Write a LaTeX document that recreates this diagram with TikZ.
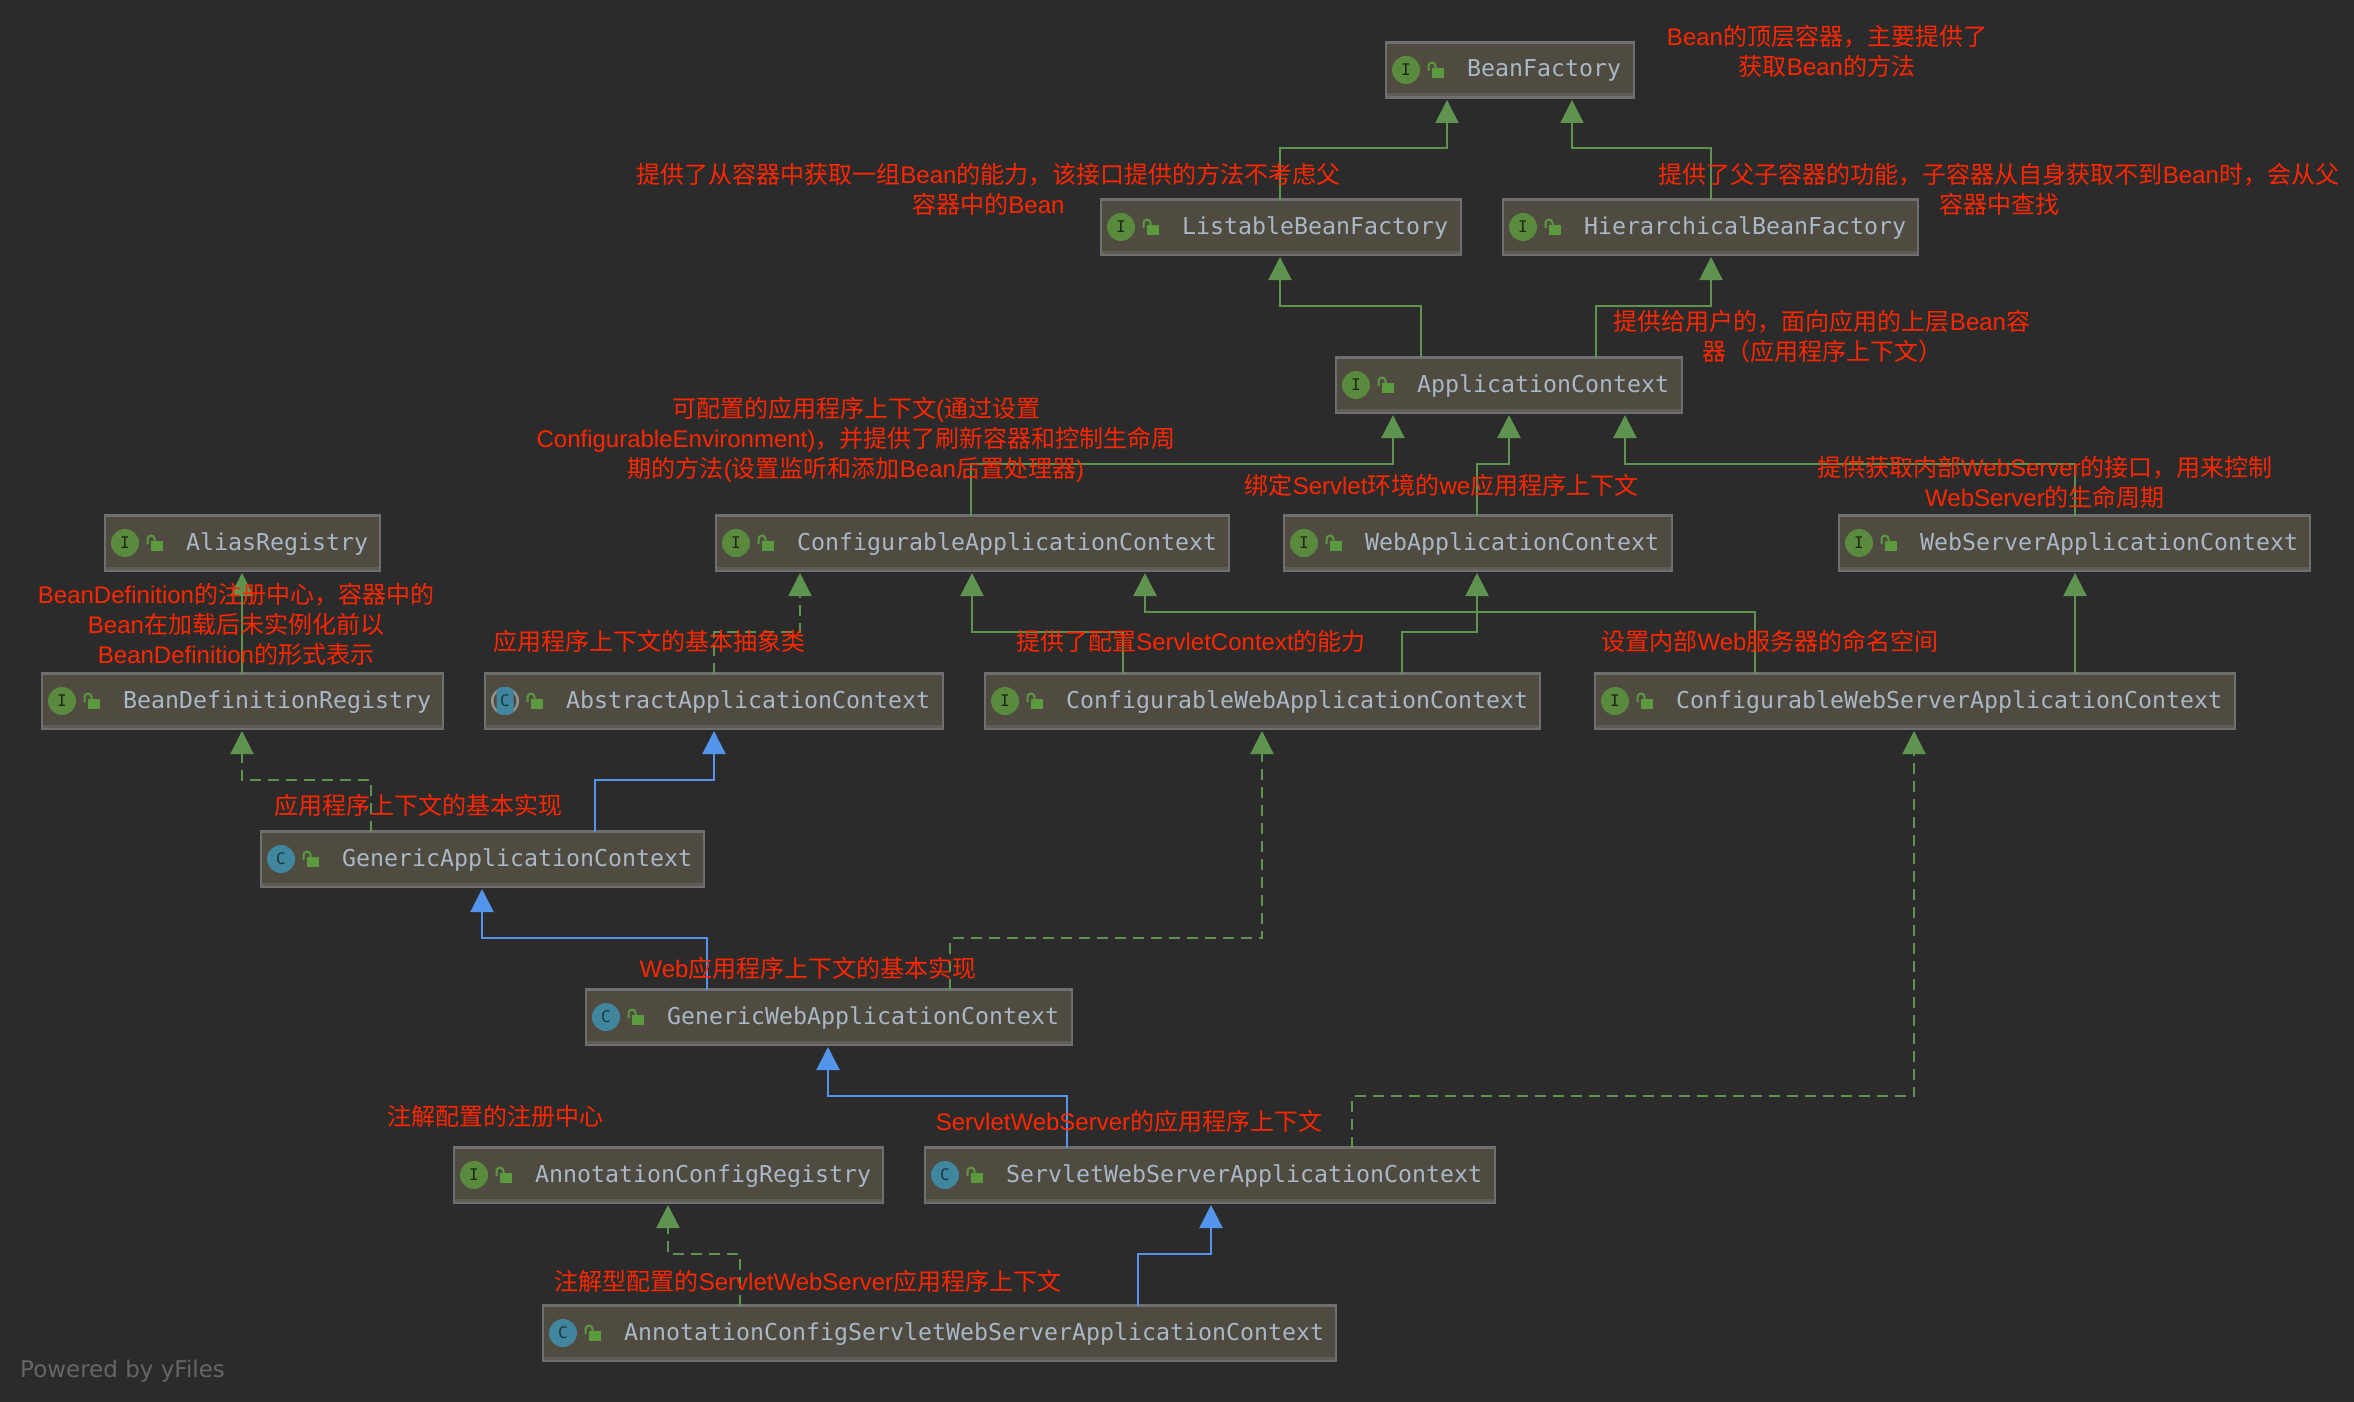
\documentclass[tikz,border=0pt]{standalone}
\usepackage{fontspec}
\setmainfont{Liberation Sans}
\newfontfamily\cjk{Noto Sans CJK SC}
\newfontfamily\codefont{DejaVu Sans Mono}
\newfontfamily\yfont{DejaVu Sans}
\newcommand{\Z}[1]{{\cjk #1}}
\usetikzlibrary{arrows.meta}
\definecolor{bgc}{HTML}{2B2B2B}
\definecolor{boxfill}{HTML}{4F4B40}
\definecolor{boxline}{HTML}{6F6F6F}
\definecolor{boxband}{HTML}{5E5C55}
\definecolor{codec}{HTML}{A9B7C6}
\definecolor{redc}{HTML}{FF2600}
\definecolor{greenc}{HTML}{5F9450}
\definecolor{bluec}{HTML}{5394EC}
\definecolor{igreen}{HTML}{5A8A3D}
\definecolor{iblue}{HTML}{40869F}
\definecolor{lockc}{HTML}{5C9A40}
\definecolor{yc}{HTML}{666666}
\tikzset{
  classbox/.style={draw=boxline,fill=boxfill,line width=2.4pt,outer sep=0pt,inner sep=0pt},
  conn/.style={line width=2.2pt,sharp corners,line join=miter},
  impl/.style={conn,greenc,-{Triangle[length=23pt,width=23pt,fill=greenc]}},
  impld/.style={impl,dash pattern=on 11pt off 7pt},
  ext/.style={conn,bluec,-{Triangle[length=23pt,width=23pt,fill=bluec]}},
  note/.style={text=redc,align=center,inner sep=0pt,font=\fontsize{24}{30}\selectfont},
  classname/.style={text=codec,anchor=base west,inner sep=0pt,font=\codefont\fontsize{23.25}{28}\selectfont},
  iconletter/.style={inner sep=0pt,font=\codefont\fontsize{16}{18}\selectfont},
}
% #1 name, #2 kind I/C/A, #3 x0, #4 y0, #5 x1, #6 text
\newcommand{\classnode}[6]{%
  \pgfmathsetmacro{\cxx}{(#3+#5+1)/2}%
  \pgfmathsetmacro{\cyy}{#4+29}%
  \pgfmathsetmacro{\www}{#5-#3+1-2.4}%
  \node[classbox,minimum width=\www pt,minimum height=55pt] (#1) at (\cxx,\cyy) {};
  \fill[boxband] (#3+2,#4+52.5) rectangle (#5-1,#4+55.5);
  \def\kind{#2}\def\kI{I}\def\kC{C}%
  \ifx\kind\kI
    \fill[igreen] (#3+21,\cyy) circle (14pt);
    \node[iconletter,text=black!70!igreen] at (#3+21,\cyy) {I};
  \else\ifx\kind\kC
    \fill[iblue] (#3+21,\cyy) circle (14pt);
    \node[iconletter,text=black!60!iblue] at (#3+21,\cyy) {C};
  \else
    \fill[gray!85] (#3+21,\cyy) circle (14pt);
    \fill[boxfill] (#3+21,\cyy) circle (11.5pt);
    \begin{scope}
      \clip (#3+12.5,\cyy-15) rectangle (#3+29.5,\cyy+15);
      \fill[iblue] (#3+21,\cyy) circle (14pt);
    \end{scope}
    \node[iconletter,text=black!60!iblue] at (#3+21,\cyy) {C};
  \fi\fi
  \fill[lockc] (#3+47,\cyy-2) rectangle (#3+59,\cyy+8);
  \draw[lockc,line width=2pt] (#3+43.5,\cyy+1) -- (#3+43.5,\cyy-4) arc[start angle=180,end angle=0,x radius=3.5pt,y radius=3.5pt] -- (#3+50.5,\cyy-2);
  \node[classname] (#1text) at (#3+82,\cyy+7) {#6};
}
% #1 style, #2 child, #3 x at child, #4 bend y, #5 parent, #6 x at parent
\newcommand{\bent}[6]{\draw[#1] (#3,0 |- #2.north) -- (#3,#4) -- (#6,#4) -- ([yshift=-2.5pt]#6,0 |- #5.south);}
\newcommand{\straight}[4]{\draw[#1] (#3,0 |- #2.north) -- ([yshift=-2.5pt]#3,0 |- #4.south);}
\begin{document}
\begin{tikzpicture}[x=1pt,y=-1pt]
\fill[bgc] (0,0) rectangle (2354,1402);
\useasboundingbox (0,0) rectangle (2354,1402);
% classes
\classnode{bf}{I}{1385}{41}{1634}{BeanFactory}
\classnode{lbf}{I}{1100}{198}{1461}{ListableBeanFactory}
\classnode{hbf}{I}{1502}{198}{1918}{HierarchicalBeanFactory}
\classnode{ac}{I}{1335}{356}{1682}{ApplicationContext}
\classnode{alias}{I}{104}{514}{380}{AliasRegistry}
\classnode{cac}{I}{715}{514}{1229}{ConfigurableApplicationContext}
\classnode{wac}{I}{1283}{514}{1672}{WebApplicationContext}
\classnode{wsac}{I}{1838}{514}{2310}{WebServerApplicationContext}
\classnode{bdr}{I}{41}{672}{443}{BeanDefinitionRegistry}
\classnode{aac}{A}{484}{672}{943}{AbstractApplicationContext}
\classnode{cwac}{I}{984}{672}{1540}{ConfigurableWebApplicationContext}
\classnode{cwsac}{I}{1594}{672}{2235}{ConfigurableWebServerApplicationContext}
\classnode{gac}{C}{260}{830}{704}{GenericApplicationContext}
\classnode{gwac}{C}{585}{988}{1072}{GenericWebApplicationContext}
\classnode{acr}{I}{453}{1146}{883}{AnnotationConfigRegistry}
\classnode{swsac}{C}{924}{1146}{1495}{ServletWebServerApplicationContext}
\classnode{acswsac}{C}{542}{1304}{1336}{AnnotationConfigServletWebServerApplicationContext}
% connectors
\bent{impl}{lbf}{1280}{148}{bf}{1447}
\bent{impl}{hbf}{1711}{148}{bf}{1572}
\bent{impl}{ac}{1421}{306}{lbf}{1280}
\bent{impl}{ac}{1596}{306}{hbf}{1711}
\bent{impl}{cac}{971}{464}{ac}{1393}
\bent{impl}{wac}{1477}{464}{ac}{1509}
\bent{impl}{wsac}{2075}{464}{ac}{1625}
\straight{impl}{bdr}{242}{alias}
\bent{impld}{aac}{714}{632}{cac}{800}
\bent{impl}{cwac}{1123}{632}{cac}{972}
\bent{impl}{cwac}{1402}{632}{wac}{1477}
\bent{impl}{cwsac}{1755}{612}{cac}{1145}
\straight{impl}{cwsac}{2075}{wsac}
\bent{impld}{gac}{371}{780}{bdr}{242}
\bent{ext}{gac}{595}{780}{aac}{714}
\bent{ext}{gwac}{707}{938}{gac}{482}
\bent{impld}{gwac}{950}{938}{cwac}{1262}
\bent{ext}{swsac}{1067}{1096}{gwac}{828}
\bent{impld}{swsac}{1352}{1096}{cwsac}{1914}
\bent{impld}{acswsac}{740}{1254}{acr}{668}
\bent{ext}{acswsac}{1138}{1254}{swsac}{1211}
% notes
\node[note] (n1) at (1827,51) {Bean\Z{的顶层容器，主要提供了}\\\Z{获取}Bean\Z{的方法}};
\node[note] (n2) at (988.5,189) {\Z{提供了从容器中获取一组}Bean\Z{的能力，该接口提供的方法不考虑父}\\\Z{容器中的}Bean};
\node[note] (n3) at (1999,189) {\Z{提供了父子容器的功能，子容器从自身获取不到}Bean\Z{时，会从父}\\\Z{容器中查找}};
\node[note] (n4) at (1822,336) {\Z{提供给用户的，面向应用的上层}Bean\Z{容}\\\Z{器（应用程序上下文）}};
\node[note] (n5) at (856,440) {\Z{可配置的应用程序上下文}(\Z{通过设置}\\ConfigurableEnvironment)\Z{，并提供了刷新容器和控制生命周}\\\Z{期的方法}(\Z{设置监听和添加}Bean\Z{后置处理器})};
\node[note] (n6) at (1441.5,485) {\Z{绑定}Servlet\Z{环境的}we\Z{应用程序上下文}};
\node[note] (n7) at (2045,482) {\Z{提供获取内部}WebServer\Z{的接口，用来控制}\\WebServer\Z{的生命周期}};
\node[note] (n8) at (236,624) {BeanDefinition\Z{的注册中心，容器中的}\\Bean\Z{在加载后未实例化前以}\\BeanDefinition\Z{的形式表示}};
\node[note] (n9) at (649,641) {\Z{应用程序上下文的基本抽象类}};
\node[note] (n10) at (1191,641) {\Z{提供了配置}ServletContext\Z{的能力}};
\node[note] (n11) at (1770,641) {\Z{设置内部}Web\Z{服务器的命名空间}};
\node[note] (n12) at (418,805) {\Z{应用程序上下文的基本实现}};
\node[note] (n13) at (808,968) {Web\Z{应用程序上下文的基本实现}};
\node[note] (n14) at (495,1116) {\Z{注解配置的注册中心}};
\node[note] (n15) at (1129,1121) {ServletWebServer\Z{的应用程序上下文}};
\node[note] (n16) at (808,1281) {\Z{注解型配置的}ServletWebServer\Z{应用程序上下文}};
\node[anchor=base west,inner sep=0pt,text=yc,font=\yfont\fontsize{23}{26}\selectfont] (power) at (20,1377) {Powered by yFiles};
\end{tikzpicture}
\end{document}
